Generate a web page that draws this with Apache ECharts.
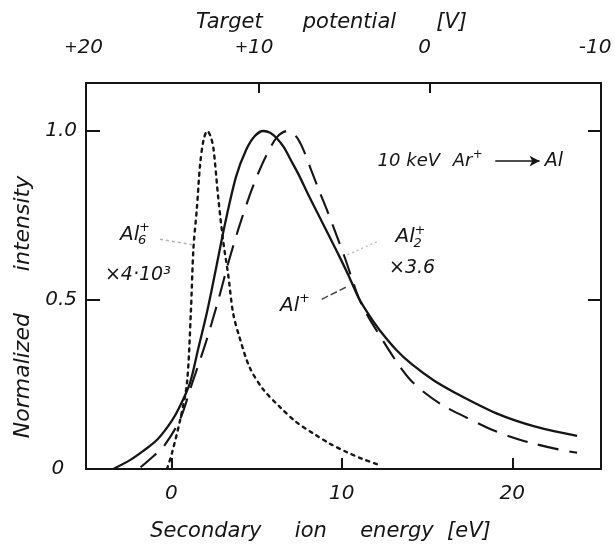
<!DOCTYPE html>
<html lang="en">
<head>
<meta charset="UTF-8" />
<script src="https://cdn.jsdelivr.net/npm/echarts@6/dist/echarts.min.js"></script>
<title>Secondary ion energy</title>
<style>html,body{margin:0;padding:0;background:#fff}</style>
</head>
<body>
<div id="main" style="width:615px;height:549px"></div>
<script type="text/javascript">
// [energy eV, normalized intensity]
const alPlus = [
	[-3.4, 0], [-2.4, 0.027], [-1.6, 0.055], [-0.8, 0.088], [0, 0.14], [0.5, 0.185],
	[1.1, 0.255], [1.6, 0.36], [2.1, 0.465], [2.65, 0.6], [3.15, 0.725], [3.8, 0.865],
	[4.4, 0.945], [4.9, 0.985], [5.4, 1.0], [5.8, 0.995], [6.2, 0.978], [6.6, 0.952],
	[7.0, 0.915], [7.5, 0.868], [8.0, 0.815], [8.6, 0.755], [9.2, 0.695], [9.8, 0.635],
	[10.4, 0.572], [11.0, 0.505], [11.6, 0.455], [12.2, 0.412], [13.2, 0.352], [14.1, 0.31],
	[15.4, 0.262], [16.7, 0.224], [18, 0.19], [19, 0.166], [20.2, 0.143], [21.3, 0.126],
	[22.5, 0.111], [23.8, 0.098]
];
const al2Plus = [
	[-1.8, 0.005], [-1.0, 0.04], [-0.45, 0.066], [0.5, 0.145], [1.2, 0.25], [2.0, 0.37],
	[2.76, 0.5], [3.4, 0.62], [4.0, 0.72], [4.6, 0.81], [5.1, 0.875], [5.6, 0.93],
	[6.2, 0.982], [6.8, 1.0], [7.3, 0.985], [7.7, 0.95], [8.2, 0.885], [8.7, 0.82],
	[9.1, 0.77], [9.5, 0.717], [10.2, 0.622], [10.6, 0.562], [11.0, 0.505], [11.5, 0.455],
	[12.0, 0.413], [13.2, 0.318], [14.0, 0.265], [14.9, 0.224], [16, 0.186], [17.2, 0.155],
	[18.5, 0.123], [19.8, 0.097], [21.2, 0.076], [22.7, 0.058], [23.8, 0.048]
];
const al6Plus = [
	[-0.25, 0], [0.04, 0.047], [0.52, 0.145], [0.92, 0.254], [1.15, 0.465], [1.3, 0.653],
	[1.5, 0.77], [1.69, 0.9], [1.9, 0.975], [2.12, 1.0], [2.3, 0.985], [2.47, 0.95],
	[2.76, 0.8], [3.05, 0.672], [3.34, 0.574], [3.63, 0.46], [4.0, 0.39], [4.6, 0.3],
	[5.4, 0.235], [6.36, 0.184], [7.3, 0.14], [8.3, 0.106], [9.3, 0.075], [10.25, 0.051],
	[11.2, 0.03], [12.2, 0.012]
];
const energyTicks = [0, 10, 20];
const potentialLabels = [20, 10, 0, -10];
const potentialTicks = [10, 0];
const intensityLabels = [0, 0.5, 1.0];
const intensityTicks = [0.5, 1.0];

const ink = '#151515';
const fontFamily = 'DejaVu Sans';

const chart = echarts.init(document.getElementById('main'));

const axisText = { color: ink, fontFamily, fontStyle: 'italic', fontSize: 20 };
const frame = { show: true, onZero: false, lineStyle: { color: ink, width: 2 } };
const tickLine = { color: ink, width: 2 };

// leader lines and the arrow, in data coordinates
const leader = (a, b, color, type) => [
	{ coord: a, lineStyle: { color, width: 1.5, type } },
	{ coord: b }
];

const option = {
	animation: false,
	backgroundColor: '#fff',
	grid: { left: 86, right: 14, top: 83, bottom: 80, outerBoundsMode: 'none' },
	xAxis: [
		{
			type: 'value',
			position: 'bottom',
			min: -5,
			max: 25.2,
			name: 'Secondary     ion     energy  [eV]',
			nameLocation: 'middle',
			nameGap: 52,
			nameTextStyle: { ...axisText, fontSize: 21, padding: [0, 46, 0, 0] },
			axisLine: frame,
			axisTick: { inside: true, length: 11, customValues: energyTicks, lineStyle: tickLine },
			axisLabel: { ...axisText, margin: 15, customValues: energyTicks },
			splitLine: { show: false }
		},
		{
			type: 'value',
			position: 'top',
			min: -10.05,
			max: 20.15,
			inverse: true,
			name: 'Target      potential      [V]',
			nameLocation: 'middle',
			nameGap: 44,
			nameTextStyle: { ...axisText, fontSize: 21, padding: [0, 24, 0, 0] },
			axisLine: frame,
			axisTick: { inside: true, length: 10, customValues: potentialTicks, lineStyle: tickLine },
			axisLabel: {
				...axisText,
				margin: 25,
				padding: [0, 10, 0, 0],
				customValues: potentialLabels,
				formatter: v => (v > 0 ? '{p|+}' + v : String(v)),
				rich: { p: { fontSize: 16, fontFamily, color: ink, verticalAlign: 'middle' } }
			},
			splitLine: { show: false }
		}
	],
	yAxis: [
		{
			type: 'value',
			min: 0,
			max: 1.142,
			name: 'Normalized      intensity',
			nameLocation: 'middle',
			nameGap: 46,
			nameTextStyle: { ...axisText, fontSize: 22, padding: [0, 62, 0, 0] },
			axisLine: frame,
			axisTick: { inside: true, length: 14, customValues: intensityTicks, lineStyle: tickLine },
			axisLabel: {
				...axisText,
				margin: 9,
				customValues: intensityLabels,
				formatter: v => (v === 0 ? '0  ' : v.toFixed(1))
			},
			splitLine: { show: false }
		},
		{
			type: 'value',
			position: 'right',
			min: 0,
			max: 1.142,
			axisLine: frame,
			axisTick: { inside: true, length: 13, customValues: intensityTicks, lineStyle: tickLine },
			axisLabel: { show: false },
			splitLine: { show: false }
		}
	],
	series: [
		{
			name: 'Al+',
			type: 'line',
			data: alPlus,
			smooth: 0.3,
			showSymbol: false,
			lineStyle: { color: ink, width: 2.3 },
			silent: true,
			markLine: {
				silent: true,
				symbol: ['none', 'none'],
				label: { show: false },
				data: [
					leader([-0.66, 0.68], [1.27, 0.663], '#b0b0b0', [3, 3]),
					leader([12.05, 0.672], [10.29, 0.633], '#bdbdbd', [2, 3]),
					leader([8.82, 0.502], [10.29, 0.539], '#444', [7, 3])
				]
			}
		},
		{
			name: 'Al2+',
			type: 'line',
			data: al2Plus,
			smooth: 0.3,
			showSymbol: false,
			lineStyle: { color: ink, width: 2.1, type: [21, 11] },
			silent: true,
			markLine: {
				silent: true,
				symbol: ['none', 'arrow'],
				symbolSize: [8, 10],
				label: { show: false },
				data: [leader([19.0, 0.911], [21.6, 0.911], ink, 'solid')]
			}
		},
		{
			name: 'Al6+',
			type: 'line',
			data: al6Plus,
			smooth: 0.3,
			showSymbol: false,
			lineStyle: { color: ink, width: 2.4, type: [3, 5], cap: 'round' },
			silent: true
		}
	]
};
chart.setOption(option);

// text labels anchored in data coordinates
const toPx = p => chart.convertToPixel({ xAxisIndex: 0, yAxisIndex: 0 }, p);
const txt = (x, y, text, size) => ({
	type: 'text',
	x,
	y,
	silent: true,
	style: {
		text,
		fill: ink,
		font: `italic ${size}px "${fontFamily}"`,
		textAlign: 'left',
		textVerticalAlign: 'middle'
	}
});
const ion = (at, sub) => {
	const [x, y] = toPx(at);
	const parts = [txt(x, y, 'Al', 20)];
	parts.push(txt(x + 19, y - 7, '+', 13));
	if (sub) parts.push(txt(x + 18, y + 6, sub, 13));
	return parts;
};
const note = (at, text, size) => {
	const [x, y] = toPx(at);
	return txt(x, y, text, size);
};

const [arX, arY] = toPx([16.5, 0.911]);
chart.setOption({
	graphic: [
		...ion([-3.0, 0.692], '6'),
		...ion([13.15, 0.686], '2'),
		...ion([6.38, 0.482], ''),
		note([-3.89, 0.574], '×4·10³', 19),
		note([12.77, 0.595], '×3.6', 19),
		note([12.1, 0.911], '10 keV', 18),
		txt(arX, arY, 'Ar', 18),
		txt(arX + 20, arY - 6, '+', 12),
		note([21.9, 0.911], 'Al', 19)
	]
});
</script>
</body>
</html>
